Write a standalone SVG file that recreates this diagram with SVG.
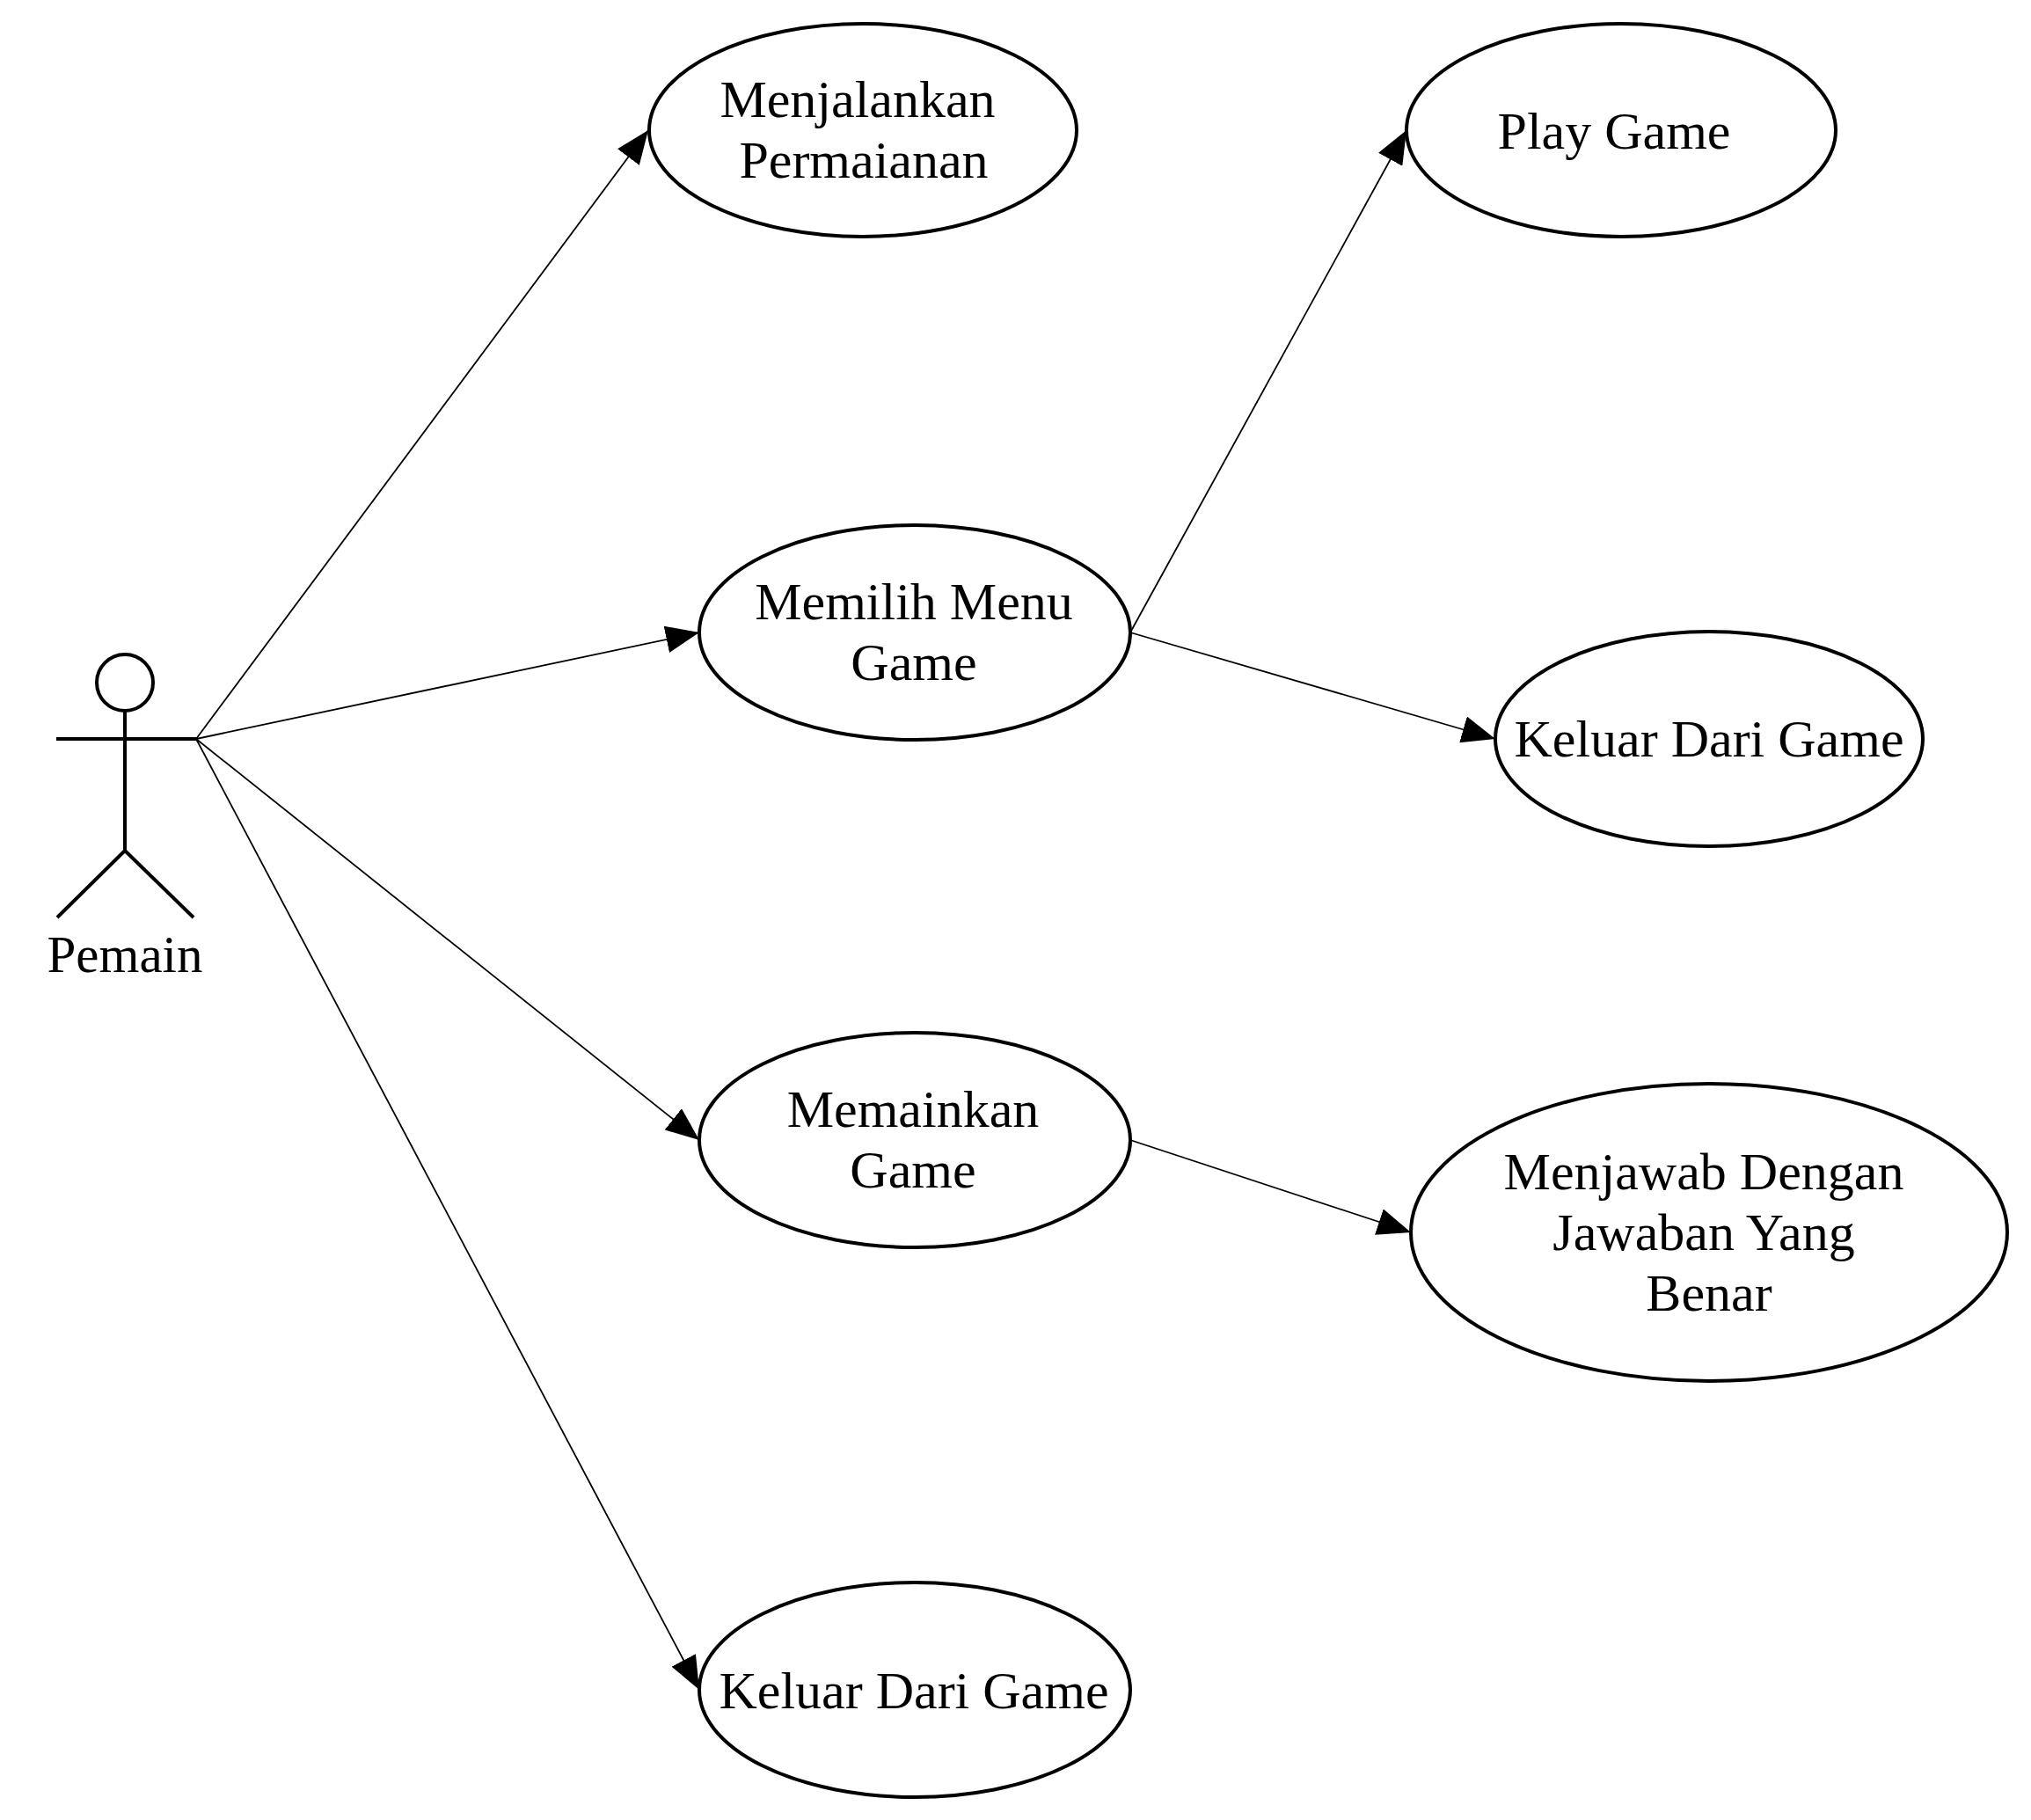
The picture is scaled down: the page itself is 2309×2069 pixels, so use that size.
<svg xmlns="http://www.w3.org/2000/svg" width="2309" height="2069" viewBox="0 0 2309 2069">
<style>
.uc{fill:#fff;stroke:#000;stroke-width:4}
.t{font-family:"Liberation Serif","Times New Roman",serif;font-size:60px;fill:#000;text-anchor:middle}
.act{stroke:#000;stroke-width:4;fill:none}
.con{stroke:#000;stroke-width:1.8;fill:none;marker-end:url(#arr)}
</style>
<defs>
<marker id="arr" markerUnits="userSpaceOnUse" viewBox="0 0 38 31" markerWidth="38" markerHeight="31" refX="38" refY="15.5" orient="auto">
<path d="M0,0 L38,15.5 L0,31 z" fill="#000"/>
</marker>
</defs>
<rect width="2309" height="2069" fill="#fff"/>
<g id="connectors">
<line class="con" x1="223" y1="840" x2="737" y2="148"/>
<line class="con" x1="223" y1="840" x2="795" y2="719"/>
<line class="con" x1="223" y1="840" x2="795" y2="1296"/>
<line class="con" x1="223" y1="840" x2="795" y2="1921"/>
<line class="con" x1="1285" y1="719" x2="1599" y2="148"/>
<line class="con" x1="1285" y1="719" x2="1700" y2="840"/>
<line class="con" x1="1285" y1="1296" x2="1604" y2="1401"/>
</g>
<g id="actor-pemain">
<circle class="act" cx="142" cy="776" r="32"/>
<line class="act" x1="142" y1="808" x2="142" y2="967"/>
<line class="act" x1="64" y1="840" x2="223" y2="840"/>
<line class="act" x1="142" y1="967" x2="65" y2="1043"/>
<line class="act" x1="142" y1="967" x2="220" y2="1043"/>
<text class="t" x="142" y="1105" style="font-size:59px">Pemain</text>
</g>
<g id="uc-menjalankan">
<ellipse class="uc" cx="981" cy="148" rx="243" ry="121"/>
<text class="t" x="975" y="133">Menjalankan</text>
<text class="t" x="982" y="202">Permaianan</text>
</g>
<g id="uc-playgame">
<ellipse class="uc" cx="1843" cy="148" rx="244" ry="121"/>
<text class="t" x="1835" y="169">Play Game</text>
</g>
<g id="uc-memilih">
<ellipse class="uc" cx="1040" cy="719" rx="245" ry="122"/>
<text class="t" x="1039" y="704">Memilih Menu</text>
<text class="t" x="1039" y="773">Game</text>
</g>
<g id="uc-keluar1">
<ellipse class="uc" cx="1943" cy="840" rx="243" ry="122"/>
<text class="t" x="1943" y="860">Keluar Dari Game</text>
</g>
<g id="uc-memainkan">
<ellipse class="uc" cx="1040" cy="1296" rx="245" ry="122"/>
<text class="t" x="1038" y="1281">Memainkan</text>
<text class="t" x="1038" y="1350">Game</text>
</g>
<g id="uc-menjawab">
<ellipse class="uc" cx="1943" cy="1401" rx="339" ry="169"/>
<text class="t" x="1937" y="1352">Menjawab Dengan</text>
<text class="t" x="1937" y="1421">Jawaban Yang</text>
<text class="t" x="1943" y="1490">Benar</text>
</g>
<g id="uc-keluar2">
<ellipse class="uc" cx="1040" cy="1921" rx="245" ry="122"/>
<text class="t" x="1039" y="1942">Keluar Dari Game</text>
</g>
</svg>
